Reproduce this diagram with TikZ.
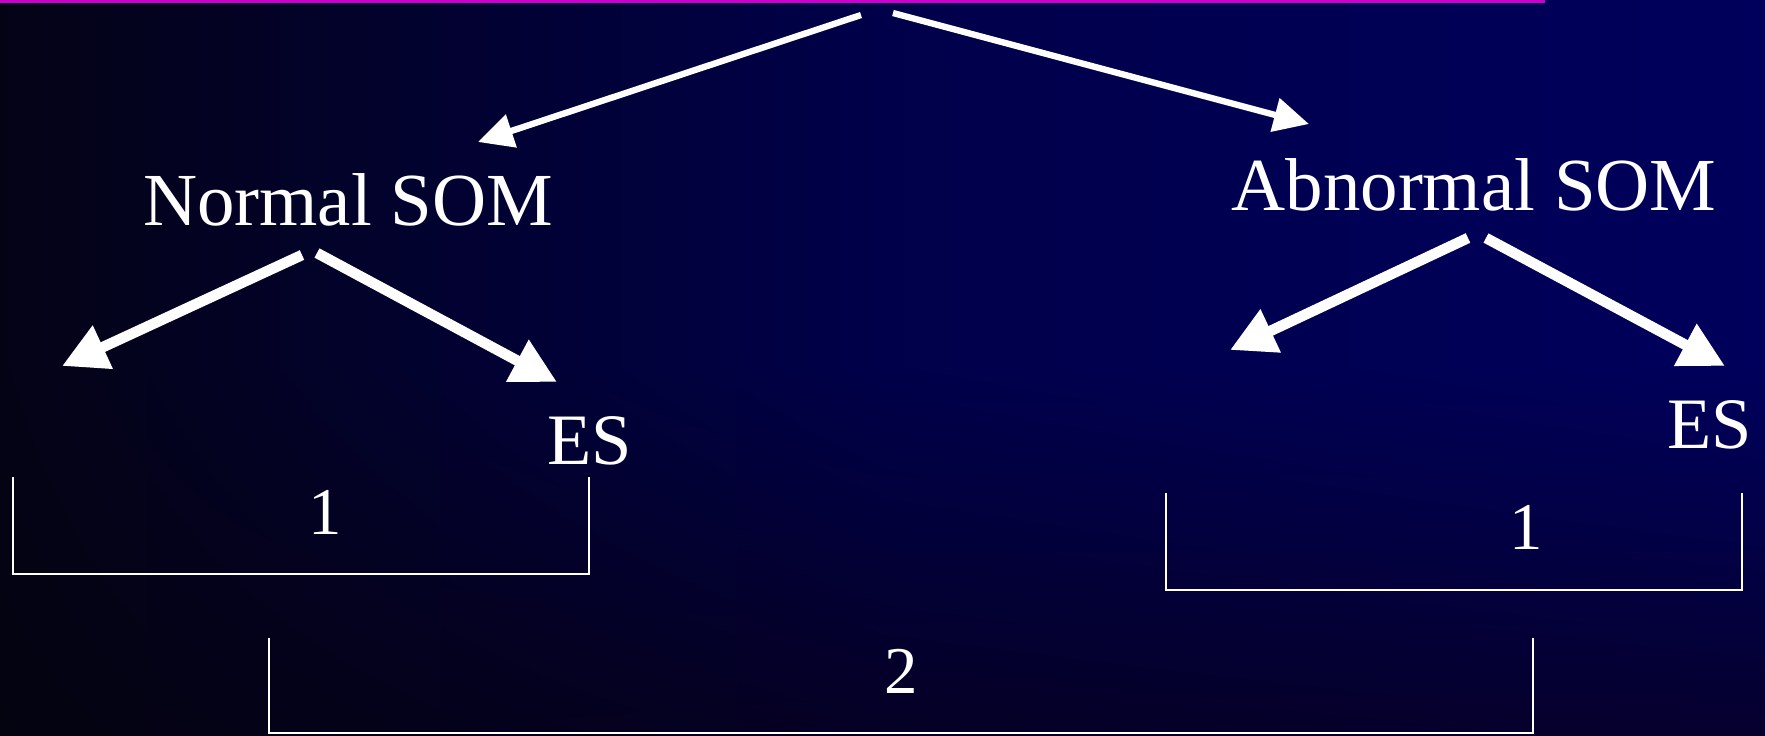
\documentclass[tikz,border=0pt]{standalone}
\usepackage{fontspec}
\setmainfont{Liberation Serif}
\usetikzlibrary{arrows.meta,shadings}
\definecolor{slidenavy}{RGB}{0,0,92}
\definecolor{slidemid}{RGB}{0,0,74}
\definecolor{slidedark}{RGB}{4,3,22}
\definecolor{slidelowl}{RGB}{4,3,16}
\definecolor{slidelowm}{RGB}{5,0,36}
\definecolor{slidelowr}{RGB}{5,0,46}
\definecolor{slidemagenta}{RGB}{204,0,204}
\begin{document}
\begin{tikzpicture}[x=0.01cm,y=-0.01cm,
  lbl/.style={text=white,inner sep=0pt,anchor=base,font=\fontsize{21.3}{25}\selectfont},
  es/.style={lbl,font=\fontsize{20.6}{24}\selectfont},
  num/.style={lbl,font=\fontsize{19}{23}\selectfont},
  arr/.style={draw=white,line width=1.8pt,-{Triangle[length=10pt,width=9.5pt]}},
  fat/.style={draw=white,line width=3pt,-{Triangle[length=12.8pt,width=12.8pt]}},
  bracket/.style={draw=white,line width=0.8pt}]
  \useasboundingbox (0,0) rectangle (1765,735);
  \shade[upper left=slidedark,upper right=slidemid,lower left=slidedark,lower right=slidemid]
    (0,0) rectangle (884,369);
  \shade[upper left=slidemid,upper right=slidenavy,lower left=slidemid,lower right=slidenavy]
    (880,0) rectangle (1765,369);
  \shade[upper left=slidedark,upper right=slidemid,lower left=slidelowl,lower right=slidelowm]
    (0,366) rectangle (884,735);
  \shade[upper left=slidemid,upper right=slidenavy,lower left=slidelowm,lower right=slidelowr]
    (880,366) rectangle (1765,735);
  \fill[slidemagenta] (0,0) rectangle (1545,3);

  \node[lbl] (nsom) at (348,225) {Normal SOM};
  \node[lbl] (asom) at (1474,210) {Abnormal SOM};
  \node[es] (nes) at (590,464) {ES};
  \node[es] (aes) at (1710,448) {ES};
  \node[num] (none) at (325,534) {1};
  \node[num] (aone) at (1526,549) {1};
  \node[num] (two) at (901,693) {2};

  \coordinate (tl) at (861,15);
  \coordinate (tr) at (893,13);
  \coordinate (nl) at (302,255);
  \coordinate (nr) at (317,253);
  \coordinate (al) at (1468,238);
  \coordinate (ar) at (1486,238);
  \coordinate (nleft) at (62,366);
  \coordinate (nright) at (557,382);
  \coordinate (aleft) at (1230,350);
  \coordinate (aright) at (1725,366);
  \coordinate (ntop) at (478,142);
  \coordinate (atop) at (1309,124);

  \draw[arr] (tl) -- (ntop);
  \draw[arr] (tr) -- (atop);
  \draw[fat] (nl) -- (nleft);
  \draw[fat] (nr) -- (nright);
  \draw[fat] (al) -- (aleft);
  \draw[fat] (ar) -- (aright);

  \draw[bracket] (13,477) -- (13,574) -- (589,574) -- (589,477);
  \draw[bracket] (1166,493) -- (1166,590) -- (1742,590) -- (1742,493);
  \draw[bracket] (269,638) -- (269,733) -- (1533,733) -- (1533,638);
\end{tikzpicture}
\end{document}
